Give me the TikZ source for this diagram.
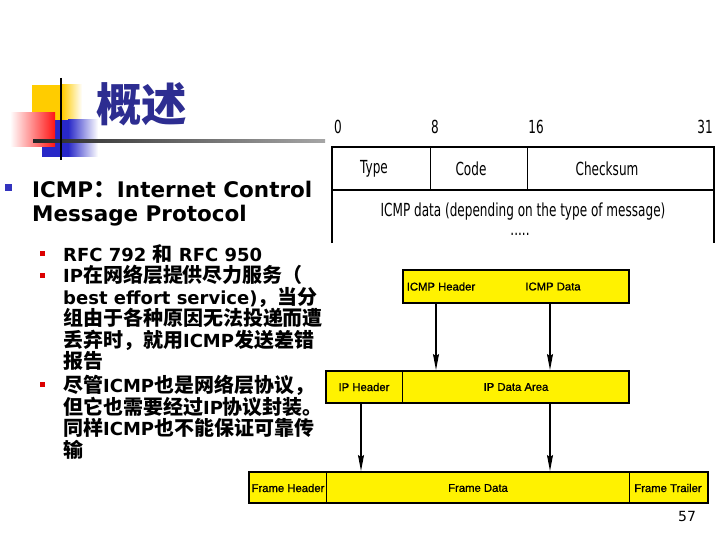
\documentclass[tikz,border=0pt]{standalone}
\usepackage{fontspec}
\setmainfont{DejaVu Sans}
\newfontfamily\cjk{Noto Sans CJK SC}[Scale=1.11]
\newfontfamily\boxf{Liberation Sans}[FakeBold=1]
\newfontfamily\tabf{DejaVu Sans}[FakeStretch=0.67]
\usetikzlibrary{arrows.meta}
\definecolor{titleblue}{RGB}{45,45,145}
\definecolor{bulblue}{RGB}{51,51,190}
\definecolor{bulred}{RGB}{220,0,0}
\definecolor{decoyellow}{RGB}{255,204,0}
\definecolor{decored}{RGB}{255,20,20}
\definecolor{decoblue}{RGB}{40,40,200}
\newcommand\zh[1]{{\cjk\bfseries #1}}
\tikzset{
  mainline/.style={anchor=base west, inner sep=0pt, font=\bfseries\fontsize{21.5}{24}\selectfont},
  subline/.style={anchor=base west, inner sep=0pt, font=\bfseries\fontsize{18}{20}\selectfont},
  ybox/.style={draw, line width=2pt, fill=yellow, inner sep=0pt},
  boxlabel/.style={inner sep=0pt, font=\boxf\fontsize{11.3}{14}\selectfont},
  tablabel/.style={inner sep=0pt, font=\tabf\fontsize{18}{20}\selectfont},
  arr/.style={line width=1.2pt, -{Stealth[length=16pt,width=6pt,inset=2pt]}},
}
\begin{document}
\begin{tikzpicture}[x=1pt,y=-1pt]
\useasboundingbox (0,0) rectangle (720,540);
% decoration
\fill[decoyellow] (32,85) rectangle (62,121);
\shade[left color=decoyellow, right color=white] (62,85) rectangle (82,121);
\fill[decoblue] (42,120) rectangle (68,157);
\shade[left color=decoblue, right color=white] (68,120) rectangle (98,157);
\shade[left color=white, right color=decored] (10,113) rectangle (55,147);
\shade[left color=black!85, right color=black!35] (33,139.8) rectangle (325,142.6);
\draw[line width=2.4pt] (61,78) -- (61,160);
% title
\node[anchor=base west, inner sep=0pt, text=titleblue, font=\cjk\bfseries\fontsize{41}{42}\selectfont] (title) at (96,122) {概述};
% bullets
\fill[bulblue] (5,184) rectangle (12,191);
\fill[bulred] (40,251) rectangle (45,256);
\fill[bulred] (40,272.5) rectangle (45,277.5);
\fill[bulred] (40,382) rectangle (45,387);
\node[mainline] (m1) at (32,197) {ICMP\zh{：}Internet Control};
\node[mainline] (m2) at (32,222) {Message Protocol};
\node[subline] (s1) at (63,261) {RFC 792 \zh{和} RFC 950};
\node[subline] (s2) at (63,282.5) {IP\zh{在网络层提供尽力服务（}};
\node[subline] (s3) at (63,304) {best effort service)\zh{，当分}};
\node[subline] (s4) at (63,325.5) {\zh{组由于各种原因无法投递而遭}};
\node[subline] (s5) at (63,347) {\zh{丢弃时，就用}ICMP\zh{发送差错}};
\node[subline] (s6) at (63,368.5) {\zh{报告}};
\node[subline] (s7) at (63,392.5) {\zh{尽管}ICMP\zh{也是网络层协议，}};
\node[subline] (s8) at (63,414) {\zh{但它也需要经过}IP\zh{协议封装。}};
\node[subline] (s9) at (63,435.5) {\zh{同样}ICMP\zh{也不能保证可靠传}};
\node[subline] (s10) at (63,457) {\zh{输}};
% ICMP table
\node[tablabel] (b0) at (338,127) {0};
\node[tablabel] (b8) at (435,127) {8};
\node[tablabel] (b16) at (536,127) {16};
\node[tablabel] (b31) at (705,127) {31};
\draw[line width=1.6pt] (332,243) -- (332,147) -- (714,147) -- (714,243);
\draw[line width=1.6pt] (332,190) -- (714,190);
\draw[line width=0.8pt] (430,147) -- (430,190);
\draw[line width=0.8pt] (527,147) -- (527,190);
\node[tablabel] (ttype) at (374,169) {Type};
\node[tablabel] (tcode) at (471,169) {Code};
\node[tablabel] (tsum) at (607,169) {Checksum};
\node[tablabel] (tdata) at (523,212) {ICMP data (depending on the type of message)};
\node[tablabel] (tdots) at (520,234) {.....};
% encapsulation boxes
\node[ybox, minimum width=226pt, minimum height=33pt] (icmp) at (516,286.5) {};
\node[boxlabel] (ih) at (441,286.5) {ICMP Header};
\node[boxlabel] (id) at (553,286.5) {ICMP Data};
\node[ybox, minimum width=303pt, minimum height=32pt] (ip) at (477.5,387) {};
\draw[line width=1pt] (402,371) -- (402,403);
\node[boxlabel] (iph) at (364,387) {IP Header};
\node[boxlabel] (ipd) at (516,387) {IP Data Area};
\node[ybox, minimum width=459pt, minimum height=31pt] (frame) at (478.5,487.5) {};
\draw[line width=1pt] (326,472) -- (326,503);
\draw[line width=1pt] (629,472) -- (629,503);
\node[boxlabel] (fh) at (288,488) {Frame Header};
\node[boxlabel] (fd) at (478,488) {Frame Data};
\node[boxlabel] (ft) at (668,488) {Frame Trailer};
% arrows
\coordinate (xa) at (436,0);
\coordinate (xb) at (550,0);
\coordinate (xc) at (361,0);
\draw[arr] (icmp.south -| xa) -- (ip.north -| xa);
\draw[arr] (icmp.south -| xb) -- (ip.north -| xb);
\draw[arr] (ip.south -| xc) -- (frame.north -| xc);
\draw[arr] (ip.south -| xb) -- (frame.north -| xb);
% page number
\node[inner sep=0pt, font=\fontsize{14}{16}\selectfont] (pg) at (687,516) {57};
\end{tikzpicture}
\end{document}
